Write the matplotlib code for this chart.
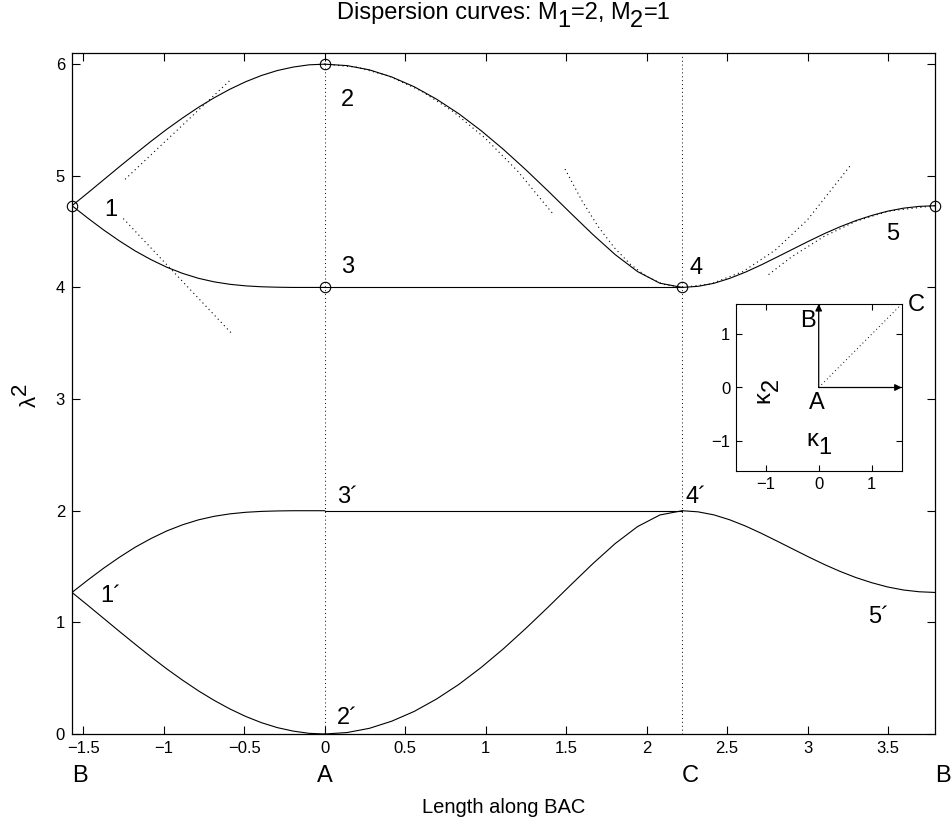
import numpy as np
import matplotlib
matplotlib.use("Agg")
import matplotlib.pyplot as plt
from matplotlib.transforms import ScaledTranslation

plt.rcParams['font.family'] = ['Liberation Sans', 'DejaVu Sans']

# ---------------- data ----------------
# segment B -> A  (x from -pi/2 to 0)
x_BA = [-1.5708, -1.4726, -1.3744, -1.2763, -1.1781, -1.0799, -0.9817, -0.8836,
        -0.7854, -0.6872, -0.5890, -0.4909, -0.3927, -0.2945, -0.1963, -0.0982, 0.0]
BA_top  = [4.732, 4.847, 4.964, 5.081, 5.196, 5.309, 5.417, 5.518, 5.613,
           5.699, 5.776, 5.843, 5.899, 5.943, 5.974, 5.994, 6.000]
BA_mid3 = [4.732, 4.621, 4.515, 4.417, 4.327, 4.249, 4.181, 4.126, 4.082,
           4.050, 4.028, 4.014, 4.006, 4.002, 4.000, 4.000, 4.000]
BA_mid2 = [1.268, 1.379, 1.485, 1.583, 1.673, 1.751, 1.819, 1.874, 1.918,
           1.950, 1.972, 1.986, 1.994, 1.998, 2.000, 2.000, 2.000]
BA_bot  = [1.268, 1.153, 1.036, 0.919, 0.804, 0.691, 0.583, 0.482, 0.387,
           0.301, 0.224, 0.157, 0.101, 0.057, 0.026, 0.006, 0.000]

# segment A -> C  (x from 0 to pi/sqrt(2))
x_AC = [0.0, 0.1388, 0.2777, 0.4165, 0.5554, 0.6942, 0.8330, 0.9719, 1.1107,
        1.2496, 1.3884, 1.5272, 1.6661, 1.8049, 1.9438, 2.0826, 2.2214]
AC_top = [6.000, 5.987, 5.949, 5.885, 5.798, 5.687, 5.556, 5.404, 5.236,
          5.054, 4.863, 4.667, 4.474, 4.294, 4.142, 4.038, 4.000]
AC_flat_hi = [4.0] * 17
AC_flat_lo = [2.0] * 17
AC_bot = [0.000, 0.013, 0.051, 0.115, 0.202, 0.313, 0.444, 0.596, 0.764,
          0.946, 1.137, 1.333, 1.526, 1.706, 1.858, 1.962, 2.000]

# segment C -> B  (x from pi/sqrt(2) to pi/sqrt(2)+pi/2)
x_CB = [2.2214, 2.3196, 2.4178, 2.5159, 2.6141, 2.7123, 2.8105, 2.9086, 3.0068,
        3.1050, 3.2031, 3.3013, 3.3995, 3.4977, 3.5959, 3.6940, 3.7922]
CB_hi = [4.000, 4.010, 4.037, 4.081, 4.137, 4.202, 4.272, 4.343, 4.414,
         4.482, 4.544, 4.599, 4.645, 4.683, 4.710, 4.726, 4.732]
CB_lo = [2.000, 1.990, 1.963, 1.919, 1.863, 1.798, 1.728, 1.657, 1.586,
         1.518, 1.456, 1.401, 1.355, 1.317, 1.290, 1.274, 1.268]

# dotted asymptotic curves
d1_x = [-1.241, -0.817, -0.578]
d1_y = [4.969, 5.545, 5.870]
d2_x = [-1.252, -0.920, -0.578]
d2_y = [4.617, 4.109, 3.587]
d3_x = [0.0, 0.2, 0.4, 0.6, 0.8, 1.0, 1.2, 1.421]
d3_y = [6.000, 5.973, 5.893, 5.760, 5.573, 5.333, 5.040, 4.654]
d4_x = [1.493, 1.6, 1.7, 1.8, 1.9, 2.0, 2.1, 2.2214]
d4_y = [5.060, 4.772, 4.543, 4.355, 4.206, 4.098, 4.029, 4.000]
d5_x = [2.2214, 2.4, 2.6, 2.8, 3.0, 3.264]
d5_y = [4.000, 4.032, 4.143, 4.335, 4.606, 5.088]
d6_x = [2.758, 2.9, 3.1, 3.3, 3.5, 3.7922]
d6_y = [4.115, 4.273, 4.455, 4.592, 4.683, 4.732]

# special points (circles)
pts_x = [-1.5708, 0.0, 0.0, 2.2214, 3.7922]
pts_y = [4.732, 6.0, 4.0, 4.0, 4.732]

# labels of branches
lab_txt = ['1', '2', '3', '4', '5', '1´', '2´', '3´', '4´', '5´']
lab_x = [-1.33, 0.14, 0.14, 2.31, 3.53, -1.33, 0.14, 0.14, 2.31, 3.44]
lab_y = [4.69, 5.68, 4.18, 4.17, 4.48, 1.24, 0.14, 2.12, 2.12, 1.05]

xticks = [-1.5, -1, -0.5, 0, 0.5, 1, 1.5, 2, 2.5, 3, 3.5]
xtick_labels = ['−1.5', '−1', '−0.5', '0', '0.5', '1', '1.5', '2', '2.5', '3', '3.5']
yticks = [0, 1, 2, 3, 4, 5, 6]
path_names = ['B', 'A', 'C', 'B']
path_x = [-1.5708, 0.0, 2.2214, 3.7922]

# ---------------- figure ----------------
fig = plt.figure(figsize=(9.53, 8.21), dpi=100)
ax = fig.add_axes([72/953, 1-734/821, (935-72)/953, (734-53)/821])
renderer = fig.canvas.get_renderer()


def rich(axis, x, y, pieces, size, transform, ha='center', rotation=0):
    """Text made of pieces shifted up/down (full-size sub/superscripts)."""
    widths = []
    for s, _ in pieces:
        t = fig.text(0, 0, s, fontsize=size)
        widths.append(t.get_window_extent(renderer).width)
        t.remove()
    total = sum(widths)
    pos = {'center': -total / 2, 'left': 0.0, 'right': -total}[ha]
    for (s, dy), w in zip(pieces, widths):
        dy_px = dy * size * fig.dpi / 72
        if rotation == 90:
            ox, oy = -dy_px, pos
        else:
            ox, oy = pos, dy_px
        tr = transform + ScaledTranslation(ox / fig.dpi, oy / fig.dpi, fig.dpi_scale_trans)
        axis.text(x, y, s, transform=tr, fontsize=size, ha='left', va='baseline',
                  rotation=rotation, rotation_mode='anchor', clip_on=False)
        pos += w


lw = 0.8
for xs, ys in [(x_BA, BA_top), (x_BA, BA_mid3), (x_BA, BA_mid2), (x_BA, BA_bot),
               (x_AC, AC_top), (x_AC, AC_flat_hi), (x_AC, AC_flat_lo), (x_AC, AC_bot),
               (x_CB, CB_hi), (x_CB, CB_lo)]:
    ax.plot(xs, ys, color='black', lw=lw)

for xs, ys in [(d1_x, d1_y), (d2_x, d2_y), (d3_x, d3_y), (d4_x, d4_y),
               (d5_x, d5_y), (d6_x, d6_y)]:
    ax.plot(xs, ys, color='black', lw=0.8, ls=(0, (1, 3)))

ax.plot([0, 0], [0, 6], color='black', lw=0.7, ls=(0, (1, 3)))
ax.plot([2.2214, 2.2214], [0, 6.1], color='black', lw=0.7, ls=(0, (1, 3)))

ax.plot(pts_x, pts_y, 'o', mfc='none', mec='black', ms=7.5, mew=0.8, clip_on=False)

for t, x, y in zip(lab_txt, lab_x, lab_y):
    ax.text(x, y, t, fontsize=17, ha='center', va='center')

ax.set_xlim(-1.5708, 3.7922)
ax.set_ylim(0, 6.1)
ax.set_xticks(xticks)
ax.set_xticklabels(xtick_labels)
ax.set_yticks(yticks)
ax.tick_params(direction='in', top=True, right=True, length=6, width=0.8,
               labelsize=12, pad=5)
for s in ax.spines.values():
    s.set_linewidth(0.9)

for name, x in zip(path_names, path_x):
    ax.annotate(name, xy=(x, 0), xycoords='data', xytext=(6 if name != 'A' else 0, -30),
                textcoords='offset points', fontsize=17, ha='center', va='center')

ax.set_xlabel('Length along BAC', fontsize=14.5, labelpad=30)

# y label  lambda^2 (rotated)
rich(ax, -0.042, 0.498, [('λ', 0.0), ('2', 0.45)], 16, ax.transAxes, rotation=90)
# title
rich(ax, 0.5, 1.05, [('Dispersion curves: M', 0.0), ('1', -0.33), ('=2, M', 0.0),
                     ('2', -0.33), ('=1', 0.0)], 17, ax.transAxes)

# ---------------- inset ----------------
ins = fig.add_axes([735.7/953, 1-471/821, 166/953, 167/821])
hp = 1.5708
ins.set_xlim(-hp, hp)
ins.set_ylim(-hp, hp)
ins.set_xticks([-1, 0, 1])
ins.set_yticks([-1, 0, 1])
ins.set_xticklabels(['−1', '0', '1'])
ins.set_yticklabels(['−1', '0', '1'])
ins.tick_params(direction='in', top=True, right=True, length=4, width=0.8,
                labelsize=12, pad=4)
ins.annotate('', xy=(hp, 0), xytext=(0, 0),
             arrowprops=dict(arrowstyle='-|>', color='black', lw=0.9,
                             mutation_scale=10, shrinkA=0, shrinkB=0))
ins.annotate('', xy=(0, hp), xytext=(0, 0),
             arrowprops=dict(arrowstyle='-|>', color='black', lw=0.9,
                             mutation_scale=10, shrinkA=0, shrinkB=0))
ins.plot([0, hp], [0, hp], color='black', lw=0.7, ls=(0, (1, 3)))
ins.text(-0.2, 1.25, 'B', fontsize=17, ha='center', va='center')
ins.text(-0.03, -0.3, 'A', fontsize=17, ha='center', va='center')
ins.text(1.85, 1.55, 'C', fontsize=17, ha='center', va='center', clip_on=False)
rich(ins, -0.93, -0.05, [('κ', 0.0), ('2', -0.35)], 17, ins.transData, rotation=90)
rich(ins, 0.0, -1.1, [('κ', 0.0), ('1', -0.35)], 17, ins.transData)

fig.savefig('out.png', dpi=100)
